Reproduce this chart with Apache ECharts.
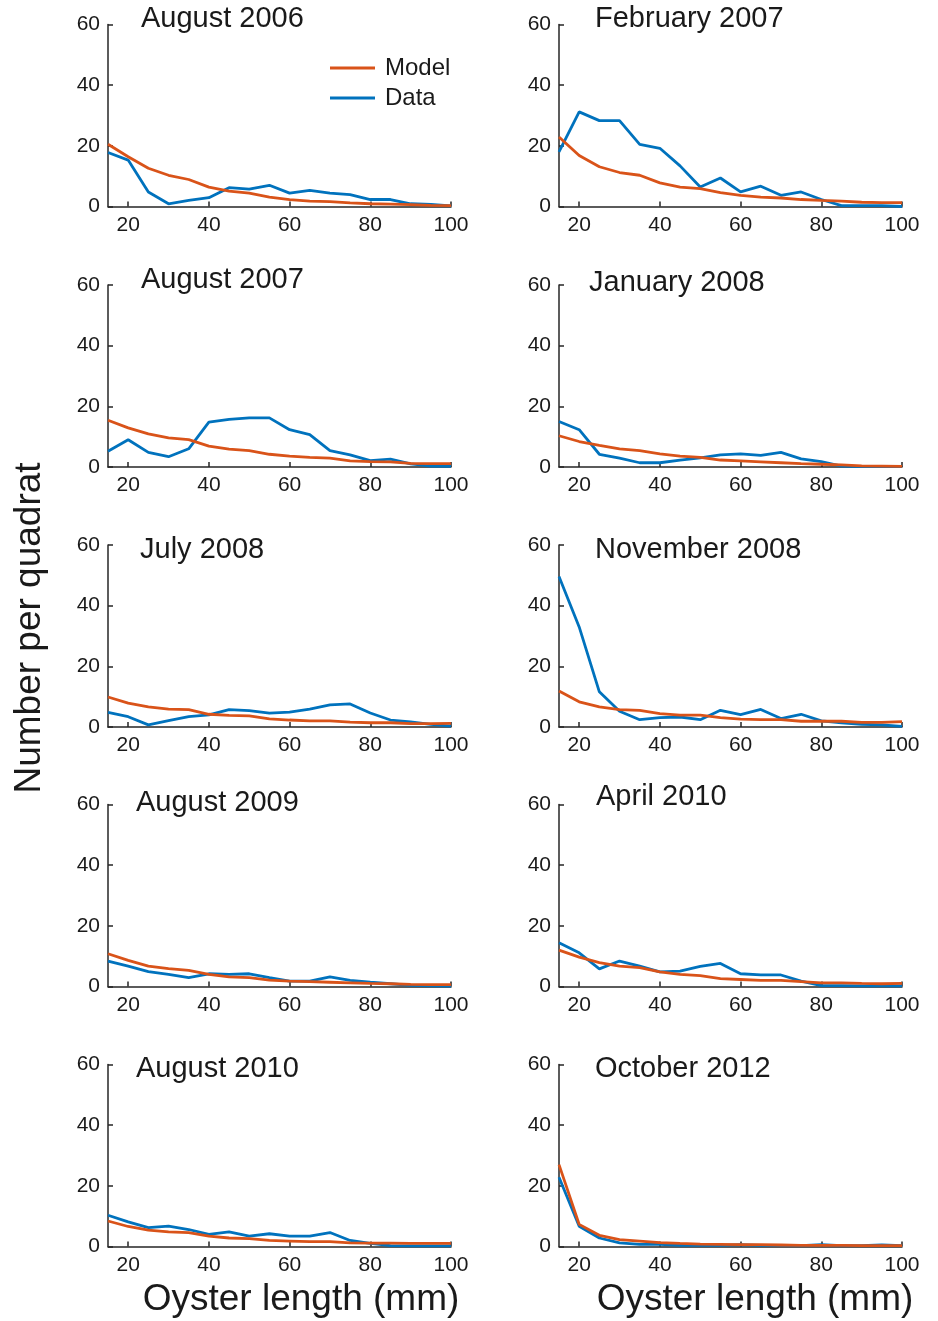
<!DOCTYPE html>
<html>
<head>
<meta charset="utf-8">
<title>Oyster length distributions</title>
<script src="https://cdn.jsdelivr.net/npm/echarts@6/dist/echarts.min.js"></script>
<style>
  html, body { margin: 0; padding: 0; background: #fff; }
  #chart { width: 938px; height: 1321px; }
</style>
</head>
<body>
<div id="chart"></div>
<script>
// Oyster length bins (mm)
const lengths = [15, 20, 25, 30, 35, 40, 45, 50, 55, 60, 65, 70, 75, 80, 85, 90, 95, 100];
const xTickValues = [20, 40, 60, 80, 100];
const yTickValues = [0, 20, 40, 60];

const panelTitles = [
  'August 2006', 'February 2007',
  'August 2007', 'January 2008',
  'July 2008', 'November 2008',
  'August 2009', 'April 2010',
  'August 2010', 'October 2012'
];

// Number per quadrat, per survey
const modelAug2006 = [20.5, 16.4, 12.6, 10.3, 8.9, 6.4, 5.1, 4.4, 3.1, 2.3, 1.8, 1.6, 1.2, 0.9, 0.8, 0.6, 0.4, 0.3];
const dataAug2006  = [17.8, 15.3, 4.8, 0.9, 2.0, 2.9, 6.2, 5.7, 7.0, 4.4, 5.3, 4.4, 3.9, 2.3, 2.3, 0.9, 0.7, 0.2];

const modelFeb2007 = [22.9, 16.8, 13.1, 11.2, 10.3, 7.8, 6.4, 5.9, 4.6, 3.7, 3.1, 2.8, 2.3, 2.0, 1.8, 1.4, 1.3, 1.3];
const dataFeb2007  = [18.0, 31.2, 28.3, 28.3, 20.5, 19.2, 13.4, 6.4, 9.4, 4.8, 6.7, 3.7, 4.8, 2.3, 0.3, 0.3, 0.3, 0.0];

const modelAug2007 = [15.4, 12.9, 10.9, 9.6, 9.0, 6.9, 5.9, 5.4, 4.2, 3.6, 3.2, 2.9, 2.0, 1.8, 1.7, 1.2, 1.1, 1.1];
const dataAug2007  = [5.2, 9.0, 4.8, 3.4, 6.0, 14.8, 15.7, 16.2, 16.2, 12.3, 10.7, 5.4, 4.0, 2.1, 2.6, 1.0, 0.3, 0.2];

const modelJan2008 = [10.3, 8.4, 7.1, 6.0, 5.4, 4.3, 3.6, 3.2, 2.3, 2.0, 1.7, 1.4, 1.1, 0.9, 0.7, 0.4, 0.3, 0.2];
const dataJan2008  = [15.0, 12.3, 4.2, 2.9, 1.4, 1.4, 2.3, 3.0, 4.0, 4.3, 3.8, 4.8, 2.7, 1.8, 0.3, 0.1, 0.1, 0.1];

const modelJul2008 = [9.9, 7.9, 6.6, 5.9, 5.7, 4.2, 3.8, 3.7, 2.7, 2.3, 2.0, 2.0, 1.6, 1.4, 1.4, 1.1, 1.1, 1.2];
const dataJul2008  = [4.8, 3.4, 0.7, 2.1, 3.4, 4.0, 5.7, 5.4, 4.6, 4.9, 5.9, 7.3, 7.6, 4.6, 2.3, 1.7, 0.9, 0.3];

const modelNov2008 = [11.9, 8.3, 6.6, 5.7, 5.5, 4.4, 3.9, 3.9, 3.1, 2.6, 2.4, 2.4, 1.9, 1.9, 1.9, 1.5, 1.5, 1.8];
const dataNov2008  = [49.6, 33.0, 11.6, 5.2, 2.4, 3.1, 3.3, 2.4, 5.5, 4.1, 5.8, 2.8, 4.2, 2.0, 1.4, 0.9, 0.7, 0.2];

const modelAug2009 = [10.8, 8.6, 6.7, 5.9, 5.3, 4.0, 3.2, 2.9, 2.1, 1.8, 1.6, 1.4, 1.2, 1.0, 0.9, 0.7, 0.6, 0.6];
const dataAug2009  = [8.4, 6.7, 4.9, 4.0, 2.9, 4.2, 4.0, 4.2, 2.9, 1.8, 1.8, 3.2, 2.0, 1.4, 0.9, 0.4, 0.2, 0.1];

const modelApr2010 = [12.0, 9.7, 7.9, 6.7, 6.2, 4.8, 4.0, 3.6, 2.6, 2.3, 2.0, 2.0, 1.6, 1.2, 1.2, 1.0, 0.9, 1.0];
const dataApr2010  = [14.4, 11.1, 5.8, 8.4, 6.7, 4.8, 5.1, 6.6, 7.6, 4.2, 3.8, 3.8, 1.8, 0.3, 0.3, 0.2, 0.2, 0.2];

const modelAug2010 = [8.4, 6.6, 5.4, 4.8, 4.6, 3.4, 2.8, 2.6, 2.0, 1.8, 1.6, 1.6, 1.2, 1.1, 1.1, 1.0, 1.0, 1.0];
const dataAug2010  = [10.3, 8.1, 6.2, 6.7, 5.6, 4.0, 4.8, 3.4, 4.2, 3.4, 3.4, 4.6, 2.0, 1.0, 0.3, 0.2, 0.2, 0.2];

const modelOct2012 = [27.0, 7.3, 3.7, 2.3, 1.8, 1.3, 1.0, 0.8, 0.7, 0.6, 0.6, 0.5, 0.4, 0.4, 0.4, 0.3, 0.3, 0.3];
const dataOct2012  = [22.8, 6.7, 2.8, 1.2, 0.7, 0.7, 0.4, 0.4, 0.4, 0.6, 0.4, 0.4, 0.3, 0.6, 0.3, 0.3, 0.5, 0.3];

const modelSeries = [modelAug2006, modelFeb2007, modelAug2007, modelJan2008, modelJul2008,
                     modelNov2008, modelAug2009, modelApr2010, modelAug2010, modelOct2012];
const dataSeries  = [dataAug2006, dataFeb2007, dataAug2007, dataJan2008, dataJul2008,
                     dataNov2008, dataAug2009, dataApr2010, dataAug2010, dataOct2012];

// Layout of the 5 x 2 panel grid
const FONT = '"Liberation Sans", Arial, Helvetica, sans-serif';
const INK = '#1a1a1a';
const AXIS = '#262626';
const MODEL_COLOR = '#D95319';
const DATA_COLOR = '#0072BD';
const LINE_W = 2.8;
const colLeft = [108, 559];
const rowTop = [24.5, 285, 545, 804.5, 1064.5];
const panelW = 343;
const panelH = 182;
const titleLeft = [[141, 595], [141, 589], [140, 595], [136, 596], [136, 595]];
const titleMid = [[19, 19], [280, 283], [550, 550], [803, 797], [1069, 1069]];

const pairs = (ys) => lengths.map((x, i) => [x, ys[i]]);

const grids = [], xAxes = [], yAxes = [], series = [], titles = [];
panelTitles.forEach((name, k) => {
  const r = Math.floor(k / 2), c = k % 2;
  grids.push({ left: colLeft[c], top: rowTop[r], width: panelW, height: panelH, containLabel: false });
  xAxes.push({
    type: 'value', gridIndex: k, min: 15, max: 100,
    axisLine: { show: true, lineStyle: { color: AXIS, width: 1.5 } },
    axisTick: { show: true, inside: true, length: 5, customValues: xTickValues, lineStyle: { color: AXIS, width: 1.5 } },
    axisLabel: { show: true, customValues: xTickValues, margin: 8, fontSize: 21, fontFamily: FONT, color: INK },
    splitLine: { show: false }
  });
  yAxes.push({
    type: 'value', gridIndex: k, min: 0, max: 60, interval: 20,
    axisLine: { show: true, lineStyle: { color: AXIS, width: 1.5 } },
    axisTick: { show: true, inside: true, length: 5, lineStyle: { color: AXIS, width: 1.5 } },
    axisLabel: { show: true, margin: 8, fontSize: 21, fontFamily: FONT, color: INK },
    splitLine: { show: false }
  });
  series.push({
    name: 'Data', type: 'line', xAxisIndex: k, yAxisIndex: k,
    data: pairs(dataSeries[k]), symbol: 'none', smooth: false,
    lineStyle: { color: DATA_COLOR, width: LINE_W }, itemStyle: { color: DATA_COLOR }, z: 2
  });
  series.push({
    name: 'Model', type: 'line', xAxisIndex: k, yAxisIndex: k,
    data: pairs(modelSeries[k]), symbol: 'none', smooth: false,
    lineStyle: { color: MODEL_COLOR, width: LINE_W }, itemStyle: { color: MODEL_COLOR }, z: 3
  });
  titles.push({
    text: name, left: titleLeft[r][c], top: titleMid[r][c] - 15, padding: 0,
    textStyle: { fontSize: 29, fontWeight: 'normal', fontFamily: FONT, color: INK }
  });
});

const option = {
  animation: false,
  backgroundColor: '#ffffff',
  title: titles,
  grid: grids,
  xAxis: xAxes,
  yAxis: yAxes,
  legend: {
    data: ['Model', 'Data'],
    orient: 'vertical',
    left: 330, top: 56, padding: 0,
    icon: 'rect', itemWidth: 45, itemHeight: LINE_W, itemGap: 6,
    textStyle: { fontSize: 24, lineHeight: 24, fontFamily: FONT, color: INK, padding: [0, 0, 0, 5] },
    selectedMode: false
  },
  graphic: [
    {
      type: 'text', x: 30, y: 628, rotation: Math.PI / 2,
      style: { text: 'Number per quadrat', font: '37px ' + FONT, fill: INK, align: 'center', verticalAlign: 'middle' }
    },
    {
      type: 'text', x: 301, y: 1300,
      style: { text: 'Oyster length (mm)', font: '37px ' + FONT, fill: INK, align: 'center', verticalAlign: 'middle' }
    },
    {
      type: 'text', x: 755, y: 1300,
      style: { text: 'Oyster length (mm)', font: '37px ' + FONT, fill: INK, align: 'center', verticalAlign: 'middle' }
    }
  ],
  series: series
};

const chart = echarts.init(document.getElementById('chart'), null, { renderer: 'canvas' });
chart.setOption(option);
</script>
</body>
</html>
